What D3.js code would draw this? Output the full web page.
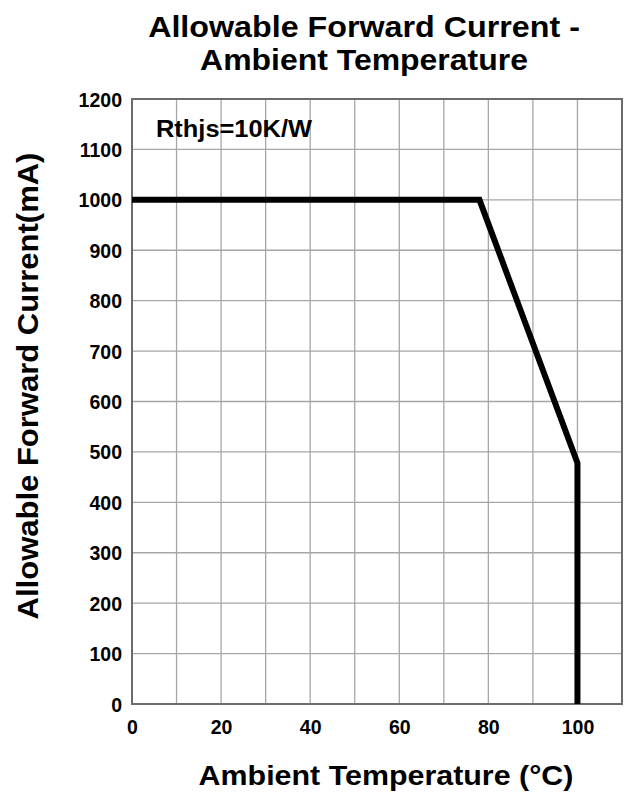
<!DOCTYPE html>
<html lang="en">
<head>
    <meta charset="UTF-8">
    <title>Allowable Forward Current - Ambient Temperature</title>
    <style>
        body { margin: 0; background: #fff; }
        text { font-family: "Liberation Sans", Arial, sans-serif; font-weight: bold; fill: #000; }
        .grid line { stroke: #a6a6a6; stroke-width: 1.3px; }
        .tick text { font-size: 19.5px; }
    </style>
    <script src="https://d3js.org/d3.v7.min.js"></script>
</head>
<body>
    <script>
        const temps = [0, 78, 100, 100];
        const currents = [1000, 1000, 478, 0];
        const xTicks = [0, 20, 40, 60, 80, 100];
        const yTicks = [0, 100, 200, 300, 400, 500, 600, 700, 800, 900, 1000, 1100, 1200];

        const width = 632, height = 796;
        const margin = { left: 132, right: 10, top: 99, bottom: 92 };

        const svg = d3.select("body").append("svg")
            .attr("width", width).attr("height", height);

        const x = d3.scaleLinear().domain([0, 110]).range([margin.left, width - margin.right]);
        const y = d3.scaleLinear().domain([0, 1200]).range([height - margin.bottom, margin.top]);

        // grid
        const grid = svg.append("g").attr("class", "grid");
        grid.selectAll(".vx").data(d3.range(10, 110, 10)).enter().append("line")
            .attr("x1", d => x(d)).attr("x2", d => x(d))
            .attr("y1", y(0)).attr("y2", y(1200));
        grid.selectAll(".hy").data(yTicks.slice(1, -1)).enter().append("line")
            .attr("x1", x(0)).attr("x2", x(110))
            .attr("y1", d => y(d)).attr("y2", d => y(d));

        // frame
        svg.append("rect")
            .attr("x", x(0)).attr("y", y(1200))
            .attr("width", x(110) - x(0)).attr("height", y(0) - y(1200))
            .attr("fill", "none").attr("stroke", "#6b6b6b").attr("stroke-width", 2);

        // axes
        const fmt = d3.format("d");
        const xAxis = svg.append("g")
            .attr("transform", `translate(0,${y(0)})`)
            .call(d3.axisBottom(x).tickValues(xTicks).tickFormat(fmt).tickSize(0).tickPadding(16));
        xAxis.select(".domain").remove();

        const yAxis = svg.append("g")
            .attr("transform", `translate(${x(0)},0)`)
            .call(d3.axisLeft(y).tickValues(yTicks).tickFormat(fmt).tickSize(0).tickPadding(10));
        yAxis.select(".domain").remove();
        yAxis.selectAll(".tick text").attr("dy", "0.36em");

        // curve
        const line = d3.line().x(d => x(d[0])).y(d => y(d[1]));
        svg.append("path")
            .datum(temps.map((t, i) => [t, currents[i]]))
            .attr("d", line)
            .attr("fill", "none").attr("stroke", "#000")
            .attr("stroke-width", 6).attr("stroke-linejoin", "miter");

        // text stretched horizontally to a given width (the original font runs wide)
        function wideText(str, cx, cy, size, targetW, rotate) {
            const g = svg.append("g");
            const t = g.append("text").attr("text-anchor", "middle")
                .style("font-size", size + "px").text(str);
            const sx = targetW / t.node().getComputedTextLength();
            g.attr("transform", `translate(${cx},${cy})${rotate ? " rotate(-90)" : ""} scale(${sx},1)`);
            return t;
        }

        // annotation
        svg.append("text").attr("x", 156).attr("y", 137)
            .attr("textLength", 156).attr("lengthAdjust", "spacingAndGlyphs")
            .style("font-size", "23px").text("Rthjs=10K/W");

        // titles
        wideText("Allowable Forward Current -", 364, 37, 29, 432);
        wideText("Ambient Temperature", 364, 70, 29, 328);
        wideText("Ambient Temperature (°C)", 386, 785, 28, 375);
        wideText("Allowable Forward Current(mA)", 38, 386, 30, 467, true);
    </script>
</body>
</html>
